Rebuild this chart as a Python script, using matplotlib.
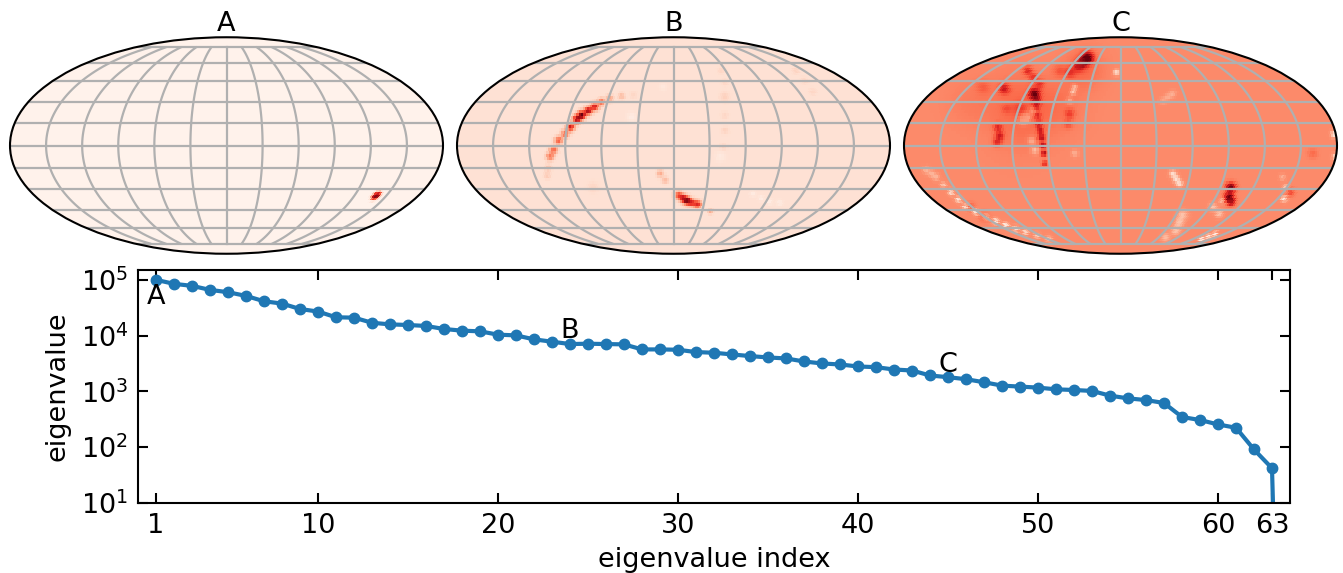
import numpy as np
import matplotlib
matplotlib.use("Agg")
import matplotlib.pyplot as plt

W, H = 1343, 573

# eigenvalue spectrum, index 1..64 (last one falls far below the axis)
eig_index = list(range(1, 65))
eig_values = [100000, 84700, 78000, 66000, 60000, 51500, 41300, 37500, 30000, 27000,
              21300, 21000, 17000, 15900, 15500, 14900, 13150, 12270, 11930, 10400,
              10100, 8570, 7780, 7060, 7160, 7060, 6970, 5660, 5660, 5580,
              5070, 4930, 4600, 4300, 4060, 3900, 3440, 3170, 3040, 2800,
              2720, 2470, 2370, 1930, 1800, 1655, 1460, 1270, 1220, 1170,
              1090, 1060, 1020, 840, 750, 700, 620, 348, 307, 256,
              223, 91, 42, 1e-10]
x_ticks = [1, 10, 20, 30, 40, 50, 60, 63]
y_ticks = [1e1, 1e2, 1e3, 1e4, 1e5]
mode_labels = ["A", "B", "C"]
mode_index = [1, 24, 45]

# map features: (x, y, colour value 0..1, size)
# x, y in map units, half width = 650, half height = 325
background = {"A": 0.02, "B": 0.12, "C": 0.40}
features_a = [(440, -159, 0.5, 5), (447, -154, 0.9, 5), (453, -149, 1.0, 5), (461, -142, 0.55, 5)]
features_b = [(-378, -90, 0.2, 7), (-375, -68, 0.22, 7), (-370, -34, 0.45, 8), (-360, -14, 0.5, 8),
              (-345, 16, 0.55, 8), (-325, 36, 0.5, 8), (-308, 56, 0.75, 8),
              (-290, 79, 0.85, 8), (-275, 91, 1.0, 8), (-255, 104, 0.85, 8),
              (-235, 116, 0.75, 8), (-215, 131, 0.5, 7), (-190, 141, 0.32, 7),
              (-155, 148, 0.25, 7), (-120, 151, 0.16, 8),
              (15, -149, 0.6, 8), (30, -159, 0.8, 8), (42, -166, 1.0, 8),
              (55, -171, 0.6, 7), (72, -176, 0.7, 8), (112, -199, 0.3, 5),
              (-40, -84, 0.3, 7), (-25, -104, 0.25, 7), (-240, -125, 0.16, 12),
              (145, 226, 0.16, 8), (155, 190, 0.16, 8), (155, 146, 0.18, 10),
              (155, 90, 0.16, 8), (155, 46, 0.17, 8), (150, -4, 0.17, 8),
              (370, 226, 0.17, 8), (395, 195, 0.16, 8), (420, 161, 0.16, 8),
              (-125, 86, 0.06, 10), (240, -144, 0.06, 6), (265, -158, 0.05, 6),
              (290, -169, 0.05, 6), (320, -172, 0.06, 6), (140, -34, 0.07, 10),
              (-30, 176, 0.08, 7)]
features_c = [(-97, 263, 1.0, 12), (-112, 250, 0.8, 11), (-125, 238, 0.65, 11),
              (-150, 220, 0.6, 11), (-277, 225, 0.65, 9), (-260, 205, 0.6, 9),
              (-240, 185, 0.6, 9), (-257, 155, 0.95, 11), (-250, 135, 0.7, 9),
              (-347, 170, 0.7, 11), (-410, 175, 0.5, 14), (-252, 115, 0.65, 7),
              (-248, 90, 0.62, 7), (-244, 65, 0.7, 7), (-240, 45, 0.7, 7),
              (-237, 25, 0.78, 7), (-233, 0, 0.82, 7), (-229, -25, 0.85, 6),
              (-227, -55, 0.7, 6), (-367, 55, 0.65, 9), (-362, 30, 0.7, 9),
              (-370, 10, 0.65, 9), (-152, 95, 0.58, 10), (-157, 65, 0.55, 9),
              (-182, 225, 0.52, 12), (-300, 110, 0.52, 14), (-340, 110, 0.5, 10),
              (333, -125, 1.0, 10), (328, -155, 1.0, 10), (333, -170, 0.8, 8),
              (513, -140, 0.6, 8), (578, -25, 0.5, 10), (-447, -185, 0.55, 9),
              (-405, -215, 0.55, 10), (-142, 160, 0.15, 6), (-137, 175, 0.2, 6),
              (-152, 135, 0.25, 6), (-12, 220, 0.12, 6), (158, 155, 0.28, 7),
              (143, 145, 0.3, 7), (128, 135, 0.32, 7), (-282, 85, 0.22, 10),
              (-292, 75, 0.25, 10), (-262, 105, 0.25, 8), (-257, -15, 0.22, 8),
              (-267, 15, 0.25, 8), (158, -85, 0.14, 7), (168, -100, 0.12, 7),
              (178, -115, 0.12, 7), (-137, -25, 0.28, 7), (-582, -75, 0.27, 7),
              (-565, -85, 0.27, 7), (-552, -95, 0.27, 7), (-530, -118, 0.2, 6),
              (-507, -140, 0.1, 6), (-485, -162, 0.08, 6), (-462, -185, 0.05, 6),
              (-432, -200, 0.05, 6), (-402, -215, 0.05, 6), (-372, -228, 0.05, 6),
              (-342, -240, 0.05, 6), (-312, -250, 0.1, 6), (-282, -260, 0.15, 6),
              (-247, -270, 0.18, 6), (-212, -280, 0.2, 6), (298, -205, 0.22, 8),
              (278, -185, 0.22, 8), (188, -210, 0.22, 10), (178, -232, 0.22, 9),
              (168, -255, 0.22, 9), (138, -275, 0.25, 9), (248, -280, 0.0, 5),
              (268, -272, 0.03, 5), (288, -265, 0.05, 5), (493, -160, 0.08, 6),
              (498, -125, 0.18, 6), (488, -95, 0.28, 6), (643, 35, 0.08, 7),
              (648, -35, 0.12, 7), (308, -165, 0.22, 6)]
# wide faint patches under the streaks of map C
patches_c = [(-300, 130, 0.48, 70), (-190, 120, 0.46, 55), (-110, 230, 0.5, 40),
             (-300, 50, 0.44, 60), (-450, 130, 0.44, 50)]
features = {"A": features_a, "B": features_b, "C": features_c}
patches = {"A": [], "B": [], "C": patches_c}

plt.rcParams["font.size"] = 19.5


def box(left, top, right, bottom):
    return [left / W, 1 - bottom / H, (right - left) / W, (bottom - top) / H]


def build_field(ax, name):
    lon_edges = np.linspace(-np.pi, np.pi, 181)
    lat_edges = np.linspace(-np.pi / 2, np.pi / 2, 91)
    lon = 0.5 * (lon_edges[1:] + lon_edges[:-1])
    lat = 0.5 * (lat_edges[1:] + lat_edges[:-1])
    LON, LAT = np.meshgrid(lon, lat)
    xy = ax.transProjection.transform(np.column_stack([LON.ravel(), LAT.ravel()]))
    px = (xy[:, 0] / (2 * np.sqrt(2)) * 650).reshape(LON.shape)
    py = (xy[:, 1] / np.sqrt(2) * 325).reshape(LON.shape)
    bg = background[name]
    base = np.full(LON.shape, bg)
    for x, y, v, s in patches[name]:
        base += (v - bg) * np.exp(-((px - x) ** 2 + (py - y) ** 2) / (2 * s ** 2))
    # overlapping features blend into one streak instead of separate beads
    total = np.zeros(LON.shape)
    weight = np.zeros(LON.shape)
    for x, y, v, s in features[name]:
        w = np.exp(-((px - x) ** 2 + (py - y) ** 2) / (2 * s ** 2))
        total += w * (v - bg)
        weight += w
    return lon_edges, lat_edges, base + total / np.maximum(weight, 1)


map_boxes = {"A": (10, 37, 443, 254), "B": (457, 37, 890, 254), "C": (904, 37, 1337, 254)}

fig = plt.figure(figsize=(W / 100, H / 100), dpi=100)

for name in mode_labels:
    ax = fig.add_axes(box(*map_boxes[name]), projection="mollweide")
    lon_e, lat_e, field = build_field(ax, name)
    ax.pcolormesh(lon_e, lat_e, field, cmap="Reds", vmin=0, vmax=1, shading="flat",
                  antialiased=False)
    ax.grid(True, color="#b0b0b0", linewidth=1.6)
    ax.set_xticklabels([])
    ax.set_yticklabels([])
    ax.set_title(name, fontsize=19.5, pad=4)
    ax.spines["geo"].set_linewidth(1.5)

ax = fig.add_axes(box(138, 270, 1290, 503))
ax.semilogy(eig_index, eig_values, "-o", color="#1f77b4", linewidth=3, markersize=7.5)
ax.set_xlim(0, 64)
ax.set_ylim(10, 1.5e5)
ax.set_xticks(x_ticks)
ax.set_xticklabels([str(t) for t in x_ticks])
ax.set_yticks(y_ticks)
ax.minorticks_off()
ax.tick_params(direction="in", top=True, right=True, length=7, width=1.5, pad=7)
for s in ax.spines.values():
    s.set_linewidth(1.5)
ax.set_xlabel("eigenvalue index", labelpad=6)
ax.set_ylabel("eigenvalue", labelpad=7)

for label, i in zip(mode_labels, mode_index):
    val = eig_values[i - 1]
    if label == "A":
        ax.annotate(label, (i, val), xytext=(0, -3), textcoords="offset points",
                    ha="center", va="top", fontsize=19.5)
    else:
        ax.annotate(label, (i, val), xytext=(0, 4), textcoords="offset points",
                    ha="center", va="baseline", fontsize=19.5)

fig.savefig("out.png", dpi=100)
